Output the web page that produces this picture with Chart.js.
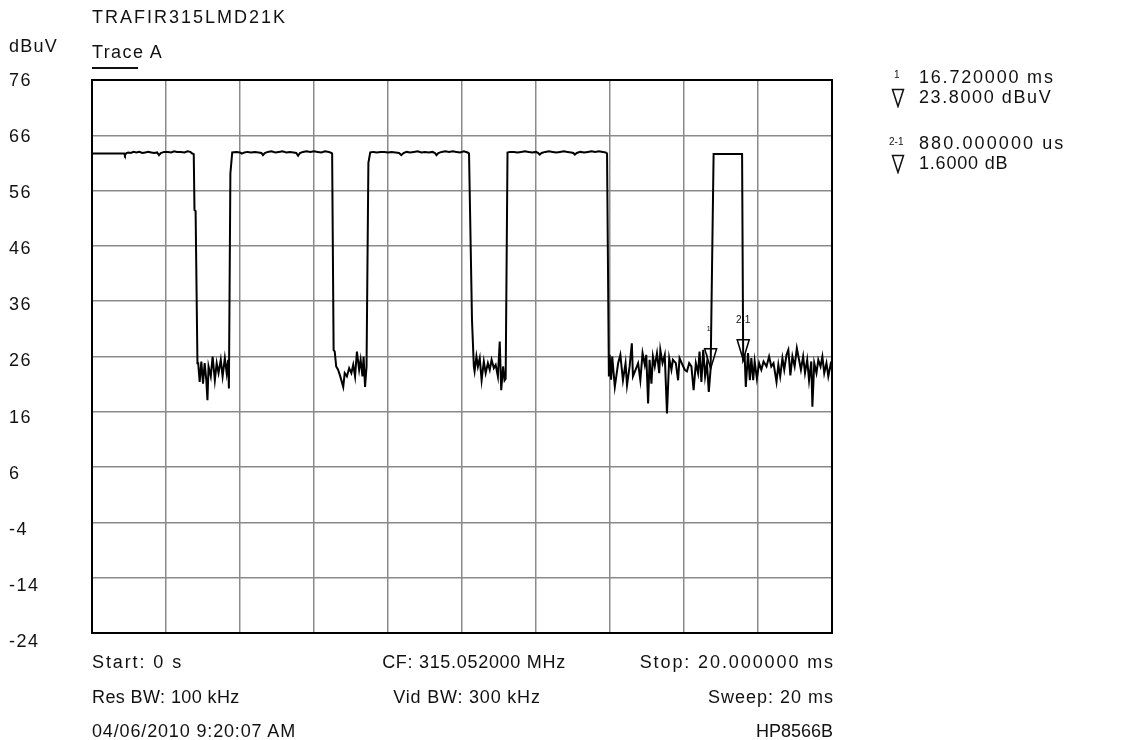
<!DOCTYPE html>
<html><head><meta charset="utf-8">
<script src="https://cdn.jsdelivr.net/npm/chart.js@4.4.1/dist/chart.umd.min.js"></script>
<style>
html,body{margin:0;padding:0;background:#fff;}
#wrap{position:relative;width:1128px;height:740px;overflow:hidden;}
canvas{position:absolute;left:0;top:0;}
.t{position:absolute;font-family:"Liberation Sans",Arial,sans-serif;font-size:18px;letter-spacing:1.5px;color:#111;white-space:nowrap;line-height:20px;}
.s{position:absolute;font-family:"Liberation Sans",Arial,sans-serif;font-size:10px;color:#111;white-space:nowrap;line-height:12px;}
.c{transform:translateX(-50%);}
.tri{position:absolute;}
</style></head><body>
<div id="wrap">
<canvas id="c" width="1128" height="740"></canvas>
<div class="t" style="left:92px;top:7px;letter-spacing:2px">TRAFIR315LMD21K</div>
<div class="t" style="left:9px;top:36px;letter-spacing:1.25px">dBuV</div>
<div class="t" style="left:92px;top:42px;letter-spacing:1.4px">Trace A</div>
<div style="position:absolute;left:92px;top:67px;width:46px;height:2px;background:#111"></div>

<div class="t" style="left:92px;top:652px;letter-spacing:1.9px">Start: 0 s</div>
<div class="t c" style="left:474px;top:652px;letter-spacing:0.7px">CF: 315.052000 MHz</div>
<div class="t" style="right:293px;top:652px;letter-spacing:1.9px">Stop: 20.000000 ms</div>
<div class="t" style="left:92px;top:687px;letter-spacing:0.4px">Res BW: 100 kHz</div>
<div class="t c" style="left:467px;top:687px;letter-spacing:0.8px">Vid BW: 300 kHz</div>
<div class="t" style="right:294px;top:687px;letter-spacing:1px">Sweep: 20 ms</div>
<div class="t" style="left:92px;top:721px;letter-spacing:0.85px">04/06/2010 9:20:07 AM</div>
<div class="t" style="right:295px;top:721px;letter-spacing:0px">HP8566B</div>

<div class="s" style="left:894px;top:69px">1</div>
<div class="t" style="left:919px;top:67px;letter-spacing:1.8px">16.720000 ms</div>
<svg class="tri" style="left:891px;top:88px" width="14" height="20"><polygon points="1.5,1.5 12.5,1.5 7,18.5" fill="none" stroke="#111" stroke-width="1.5"/></svg>
<div class="t" style="left:919px;top:87px;letter-spacing:1.6px">23.8000 dBuV</div>
<div class="s" style="left:889px;top:136px">2-1</div>
<div class="t" style="left:919px;top:133px;letter-spacing:2.1px">880.000000 us</div>
<svg class="tri" style="left:891px;top:154px" width="14" height="20"><polygon points="1.5,1.5 12.5,1.5 7,18.5" fill="none" stroke="#111" stroke-width="1.5"/></svg>
<div class="t" style="left:919px;top:153px;letter-spacing:0.8px">1.6000 dB</div>
</div>
<script>
// ---- data ----
const timeMs = [
 0,0.87,0.89,0.93,0.98,1.05,1.12,1.2,1.28,1.36,1.44,1.52,1.6,1.68,1.76,1.81,1.86,1.95,2.05,2.14,2.22,2.3,2.4,2.5,2.58,2.66,2.71,2.75,
 2.77,2.80,2.85,
 2.87,2.91,2.955,3.0,3.045,3.09,3.12,3.15,3.21,3.26,3.32,3.37,3.42,3.48,3.53,3.59,3.64,3.68,3.70,
 3.74,3.79,3.9,4.0,4.05,4.12,4.2,4.3,4.4,4.5,4.58,4.62,4.67,4.75,4.85,4.95,5.05,5.15,5.25,5.35,5.45,5.52,5.57,5.62,5.7,5.8,5.9,6.0,6.1,6.2,6.3,6.4,6.47,6.49,
 6.53,6.56,6.60,6.65,6.71,6.79,6.83,6.89,6.95,7.01,7.06,7.11,7.16,7.22,7.26,7.31,7.34,7.38,7.42,
 7.47,7.52,7.6,7.7,7.8,7.9,8.0,8.1,8.2,8.3,8.36,8.42,8.5,8.6,8.7,8.8,8.9,9.0,9.1,9.2,9.27,9.31,9.36,9.45,9.55,9.65,9.75,9.85,9.95,10.05,10.15,10.19,
 10.27,10.32,10.34,10.39,10.43,10.48,10.53,10.59,10.64,10.70,10.75,10.80,10.86,10.91,10.97,11.02,11.06,11.11,11.15,11.18,
 11.23,11.3,11.4,11.5,11.6,11.7,11.8,11.9,12.0,12.06,12.1,12.15,12.25,12.35,12.45,12.55,12.65,12.75,12.85,12.95,13.01,13.05,13.1,13.2,13.3,13.4,13.5,13.6,13.7,13.8,13.88,13.92,
 13.97,13.99,14.03,14.06,14.13,14.22,14.28,14.35,14.42,14.46,14.53,14.59,14.62,14.69,14.76,14.82,14.88,14.94,14.98,15.03,15.07,15.12,15.16,15.21,15.27,15.33,15.36,15.42,15.48,15.54,15.60,15.66,15.70,15.78,15.84,15.88,15.96,16.02,16.08,16.14,16.20,16.26,16.32,16.38,16.42,16.47,16.52,16.57,16.62,16.67,16.72,
 16.80,17.57,17.60,
 17.64,17.67,17.73,17.78,17.82,17.87,17.91,17.97,18.03,18.09,18.15,18.23,18.30,18.36,18.42,18.50,18.55,18.60,18.66,18.71,18.77,18.82,18.875,18.93,18.99,19.05,19.11,19.16,19.22,19.27,19.33,19.38,19.44,19.47,19.52,19.58,19.63,19.69,19.74,19.79,19.85,19.90,19.96,20.0
];
const levelDbuV = [
 62.7,62.7,62.4,62.8,62.9,62.8,63.0,62.9,63.0,62.8,62.9,63.0,62.9,62.8,62.9,62.4,62.8,63.0,63.0,62.9,63.1,63.0,63.0,62.9,63.1,63.0,62.7,62.6,
 52.5,52.3,24.8,
 24.8,21.4,25.1,21.1,24.8,21.7,18.1,24.2,22.4,26.0,21.7,24.8,23.0,25.4,22.4,25.7,23.0,25.4,20.2,
 59.1,62.9,63.0,62.9,62.7,62.9,63.0,62.9,63.0,62.9,62.8,62.4,62.8,63.0,63.1,62.9,63.0,63.1,62.9,63.0,62.9,62.8,62.3,62.8,63.0,63.1,63.0,63.1,63.0,62.9,63.1,63.0,62.8,62.7,
 27.2,26.9,24.2,23.6,22.4,20.5,23.0,22.4,23.9,23.0,24.5,22.4,26.9,23.6,25.4,22.4,26.0,20.5,24.2,
 61.0,62.9,63.0,62.9,63.0,63.0,62.9,63.0,62.9,62.8,62.4,62.8,63.0,62.9,63.0,63.1,62.9,63.0,62.9,63.0,62.8,62.4,62.8,63.0,63.1,63.0,63.1,63.0,62.9,63.1,62.9,62.7,
 32.6,24.2,23.3,26.0,24.2,25.7,21.7,25.1,23.0,24.8,23.6,25.4,23.9,24.5,22.4,28.7,19.9,24.2,21.7,22.0,
 62.9,63.0,63.0,62.9,63.0,63.1,63.0,62.9,63.0,62.8,62.5,62.8,63.0,63.1,63.0,62.9,63.0,63.1,63.0,62.9,62.8,62.5,62.8,63.0,62.9,63.0,63.1,63.0,63.1,63.0,62.9,62.7,
 22.4,26.3,21.8,26.0,20.5,24.8,26.3,21.7,24.8,20.8,24.2,28.4,22.4,23.6,24.8,21.7,26.6,24.5,26.3,17.5,25.4,21.1,26.0,24.2,26.6,23.0,27.2,24.8,26.3,15.7,25.7,23.6,25.4,24.8,21.7,25.7,24.5,23.6,23.3,24.8,24.2,19.9,24.8,23.0,26.9,21.4,27.2,22.4,24.8,19.6,23.8,
 62.6,62.6,25.4,
 26.0,20.5,26.6,21.7,25.7,21.7,25.1,22.0,24.8,23.6,25.1,24.2,26.0,24.2,24.8,21.4,24.5,22.4,25.7,23.6,26.3,27.2,22.6,26.0,24.2,27.5,25.4,23.6,26.0,23.0,25.4,21.7,25.1,16.9,24.8,23.0,25.4,24.2,26.0,23.0,24.8,22.4,24.5,23.6
];
const yTicks = [-24,-14,-4,6,16,26,36,46,56,66,76];
const markerTimeMs = [16.72, 17.60];
const markerLevel = [23.8, 25.4];
const markerLabels = ['1', '2-1'];

const points = timeMs.map((t,i)=>({x:t, y:levelDbuV[i]}));

const framePlugin = {
  id:'frame',
  beforeDatasetsDraw(chart){
    const {ctx, chartArea:a} = chart;
    ctx.save();
    ctx.strokeStyle = '#000';
    ctx.lineWidth = 2;
    ctx.strokeRect(a.left, a.top, a.right-a.left, a.bottom-a.top);
    ctx.restore();
  },
  afterDraw(chart){
    // y tick labels: left aligned, spaced slightly wider than the grid as in the reference
    const {ctx, scales:{y}} = chart;
    const top = yTicks[yTicks.length-1], span = top - yTicks[0];
    ctx.save();
    ctx.letterSpacing = '1.5px';
    ctx.font = '18px "Liberation Sans", Arial, sans-serif';
    ctx.fillStyle = '#111';
    ctx.textAlign = 'left'; ctx.textBaseline = 'middle';
    yTicks.forEach(v=>{
      const py = y.getPixelForValue(v) + 1 + 8*(top - v)/span;
      ctx.fillText(String(v), 9, py);
    });
    ctx.restore();
  }
};
const markerPlugin = {
  id:'markers',
  afterDatasetsDraw(chart){
    const {ctx, scales:{x, y}} = chart;
    ctx.save();
    markerTimeMs.forEach((t,i)=>{
      const px = x.getPixelForValue(t), py = y.getPixelForValue(markerLevel[i]);
      ctx.beginPath();
      ctx.moveTo(px-6, py-20); ctx.lineTo(px+6, py-20); ctx.lineTo(px, py); ctx.closePath();
      ctx.strokeStyle = '#000'; ctx.lineWidth = 1.5; ctx.stroke();
      ctx.fillStyle = '#111';
      ctx.font = (i===0 ? '7px' : '10px') + ' "Liberation Sans", Arial, sans-serif';
      ctx.textAlign = 'center'; ctx.textBaseline = 'middle';
      ctx.fillText(markerLabels[i], px-(i===0?2:0), py-40);
    });
    ctx.restore();
  }
};

new Chart(document.getElementById('c'), {
  type:'line',
  data:{datasets:[{data:points, borderColor:'#000', borderWidth:2, pointRadius:0, tension:0, fill:false}]},
  options:{
    responsive:false, animation:false, parsing:true,
    layout:{padding:{left:9, top:80, right:296, bottom:107}},
    plugins:{legend:{display:false}, tooltip:{enabled:false}},
    scales:{
      x:{type:'linear', min:0, max:20,
         ticks:{display:false, stepSize:2},
         grid:{color:'#8a8a8a', lineWidth:1.5, drawTicks:false},
         border:{display:false},
         afterFit(s){ s.height = 0; }},
      y:{type:'linear', min:yTicks[0], max:yTicks[yTicks.length-1],
         afterBuildTicks(s){ s.ticks = yTicks.map(v=>({value:v})); },
         ticks:{display:false},
         grid:{color:'#8a8a8a', lineWidth:1.5, drawTicks:false},
         border:{display:false},
         afterFit(s){ s.width = 83; }}
    }
  },
  plugins:[framePlugin, markerPlugin]
});
</script>
</body></html>
